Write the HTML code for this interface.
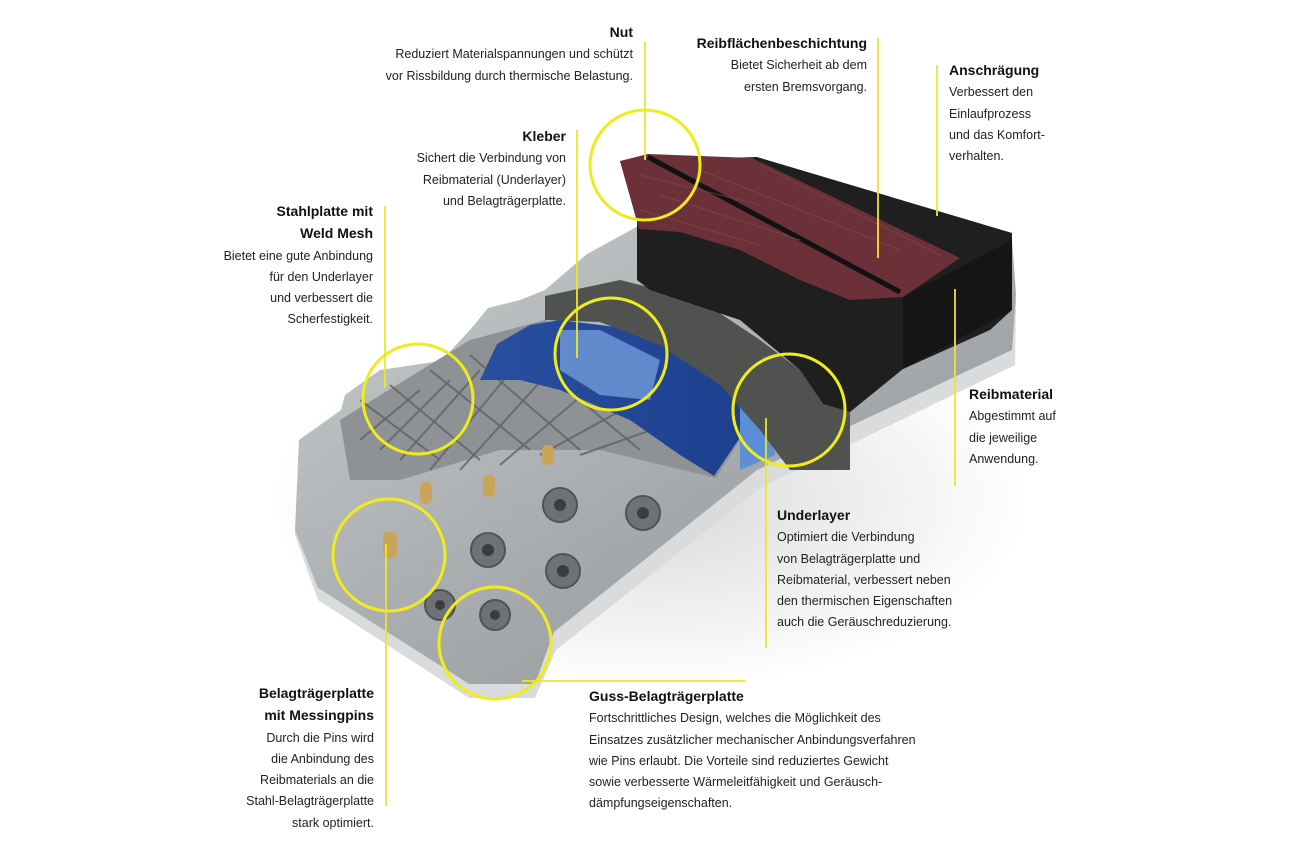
<!DOCTYPE html>
<html><head><meta charset="utf-8"><style>
html,body{margin:0;padding:0;background:#fff}
body{width:1296px;height:864px;position:relative;overflow:hidden;font-family:"Liberation Sans",sans-serif;color:#222}
.t{position:absolute;font-size:12.5px;line-height:21.3px;white-space:nowrap}
.t b{font-size:14px;color:#111}
.r{text-align:right}
</style></head><body>
<svg width="1296" height="864" style="position:absolute;left:0;top:0">
<defs>
<linearGradient id="pl" x1="0" y1="0" x2="1" y2="1"><stop offset="0" stop-color="#c9cccd"/><stop offset="0.6" stop-color="#a3a7a9"/><stop offset="1" stop-color="#8a8e90"/></linearGradient>
<linearGradient id="bl" x1="0" y1="0" x2="1" y2="0"><stop offset="0" stop-color="#2a4fa0"/><stop offset="1" stop-color="#1d3f8e"/></linearGradient>
<radialGradient id="sh" cx="0.5" cy="0.5" r="0.5"><stop offset="0" stop-color="#000" stop-opacity="0.15"/><stop offset="1" stop-color="#000" stop-opacity="0"/></radialGradient>
</defs>
<ellipse cx="650" cy="500" rx="380" ry="190" fill="url(#sh)"/>
<path d="M299,452 L295,535 L318,600 L469,698 L535,698 L556,650 L760,488 L1015,365 L1016,300 L1012,290 L1012,350 L757,470 L554,632 L535,684 L469,684 L318,588 Z" fill="#d9dbdc"/>
<path d="M299,440 L341,410 L345,395 L380,370 L441,361 L470,330 L488,308 L520,300 L545,290 L587,254 L620,236 L640,225 L1012,240 L1016,294 L1012,350 L757,470 L554,632 L535,684 L469,684 L318,588 L295,530 Z" fill="url(#pl)"/>
<path d="M340,420 L470,340 L545,320 L700,390 L740,440 L716,478 L600,450 L500,450 L400,480 L350,480 Z" fill="#8e9294"/>
<g stroke="#5d6163" stroke-width="2" fill="none" opacity="0.8">
<path d="M360,440 L420,390 M380,450 L450,380 M400,460 L480,370 M430,470 L520,360 M460,470 L560,360 M500,465 L600,380 M540,455 L640,400 M580,455 L680,420 M360,400 L440,460 M390,385 L480,460 M430,370 L530,450 M470,355 L580,450 M520,350 L640,450"/>
</g>
<path d="M497,344 L530,325 L560,320 L640,330 L700,360 L738,400 L745,430 L714,476 L680,455 L630,420 L560,390 L520,380 L480,380 Z" fill="url(#bl)"/>
<path d="M560,330 L600,330 L660,360 L650,400 L600,395 L560,370 Z" fill="#6f9bd8" opacity="0.8"/>
<path d="M740,400 L770,420 L775,455 L740,470 Z" fill="#5d8fd6"/>
<path d="M545,296 L620,280 L700,300 L760,340 L800,370 L823,404 L850,412 L850,470 L790,470 L760,430 L720,385 L660,345 L600,322 L545,320 Z" fill="#4f524f"/>
<path d="M620,161 L757,157 L1012,233 L1012,310 L990,330 L903,369 L850,412 L823,404 L800,370 L740,320 L650,290 L637,280 L637,219 Z" fill="#1f1f1f"/>
<path d="M903,297 L1012,240 L1012,310 L903,369 Z" fill="#151515"/>
<path d="M620,161 L648,154 L752,158 L960,258 L903,297 L850,300 L800,280 L740,250 L680,232 L639,229 Z" fill="#6b3038"/>
<path d="M648,157 L900,292" stroke="#121212" stroke-width="5"/>
<g stroke="#8a4b55" stroke-width="1" opacity="0.6"><path d="M640,175 L760,205 M660,195 L800,240 M700,170 L900,250 M760,165 L940,255 M640,210 L760,245"/></g>
<g fill="#c9a45a"><rect x="542" y="445" width="12" height="20" rx="5"/><rect x="483" y="475" width="12" height="22" rx="5"/><rect x="420" y="482" width="12" height="22" rx="5"/><rect x="383" y="532" width="14" height="26" rx="5"/></g>
<g fill="#6e7275" stroke="#4f5356" stroke-width="2">
<circle cx="560" cy="505" r="17"/><circle cx="643" cy="513" r="17"/><circle cx="488" cy="550" r="17"/><circle cx="563" cy="571" r="17"/><circle cx="440" cy="605" r="15"/><circle cx="495" cy="615" r="15"/></g>
<g fill="#3a3d40"><circle cx="560" cy="505" r="6"/><circle cx="643" cy="513" r="6"/><circle cx="488" cy="550" r="6"/><circle cx="563" cy="571" r="6"/><circle cx="440" cy="605" r="5"/><circle cx="495" cy="615" r="5"/></g>
<g fill="none" stroke="#f0ec1c" stroke-width="3">
<circle cx="645" cy="165" r="55"/><circle cx="611" cy="354" r="56"/><circle cx="418" cy="399" r="55"/><circle cx="789" cy="410" r="56"/><circle cx="389" cy="555" r="56"/><circle cx="495" cy="643" r="56"/>
</g>
<g stroke="#ece62a" stroke-width="1.8">
<line x1="645" y1="42" x2="645" y2="160"/>
<line x1="878" y1="38" x2="878" y2="258"/>
<line x1="937" y1="65" x2="937" y2="216"/>
<line x1="577" y1="130" x2="577" y2="358"/>
<line x1="385" y1="206" x2="385" y2="388"/>
<line x1="955" y1="289" x2="955" y2="486"/>
<line x1="766" y1="418" x2="766" y2="648"/>
<line x1="522" y1="681" x2="745" y2="681"/>
<line x1="386" y1="544" x2="386" y2="806"/>
</g>
</svg>
<div class="t r" style="right:663px;top:22px"><b>Nut</b><br>Reduziert Materialspannungen und schützt<br>vor Rissbildung durch thermische Belastung.</div>
<div class="t r" style="right:429px;top:33px"><b>Reibflächenbeschichtung</b><br>Bietet Sicherheit ab dem<br>ersten Bremsvorgang.</div>
<div class="t" style="left:949px;top:60px"><b>Anschrägung</b><br>Verbessert den<br>Einlaufprozess<br>und das Komfort-<br>verhalten.</div>
<div class="t r" style="right:730px;top:126px"><b>Kleber</b><br>Sichert die Verbindung von<br>Reibmaterial (Underlayer)<br>und Belagträgerplatte.</div>
<div class="t r" style="right:923px;top:201px"><b>Stahlplatte mit<br>Weld Mesh</b><br>Bietet eine gute Anbindung<br>für den Underlayer<br>und verbessert die<br>Scherfestigkeit.</div>
<div class="t" style="left:969px;top:384px"><b>Reibmaterial</b><br>Abgestimmt auf<br>die jeweilige<br>Anwendung.</div>
<div class="t" style="left:777px;top:505px"><b>Underlayer</b><br>Optimiert die Verbindung<br>von Belagträgerplatte und<br>Reibmaterial, verbessert neben<br>den thermischen Eigenschaften<br>auch die Geräuschreduzierung.</div>
<div class="t" style="left:589px;top:686px"><b>Guss-Belagträgerplatte</b><br>Fortschrittliches Design, welches die Möglichkeit des<br>Einsatzes zusätzlicher mechanischer Anbindungsverfahren<br>wie Pins erlaubt. Die Vorteile sind reduziertes Gewicht<br>sowie verbesserte Wärmeleitfähigkeit und Geräusch-<br>dämpfungseigenschaften.</div>
<div class="t r" style="right:922px;top:683px"><b>Belagträgerplatte<br>mit Messingpins</b><br>Durch die Pins wird<br>die Anbindung des<br>Reibmaterials an die<br>Stahl-Belagträgerplatte<br>stark optimiert.</div>
</body></html>
